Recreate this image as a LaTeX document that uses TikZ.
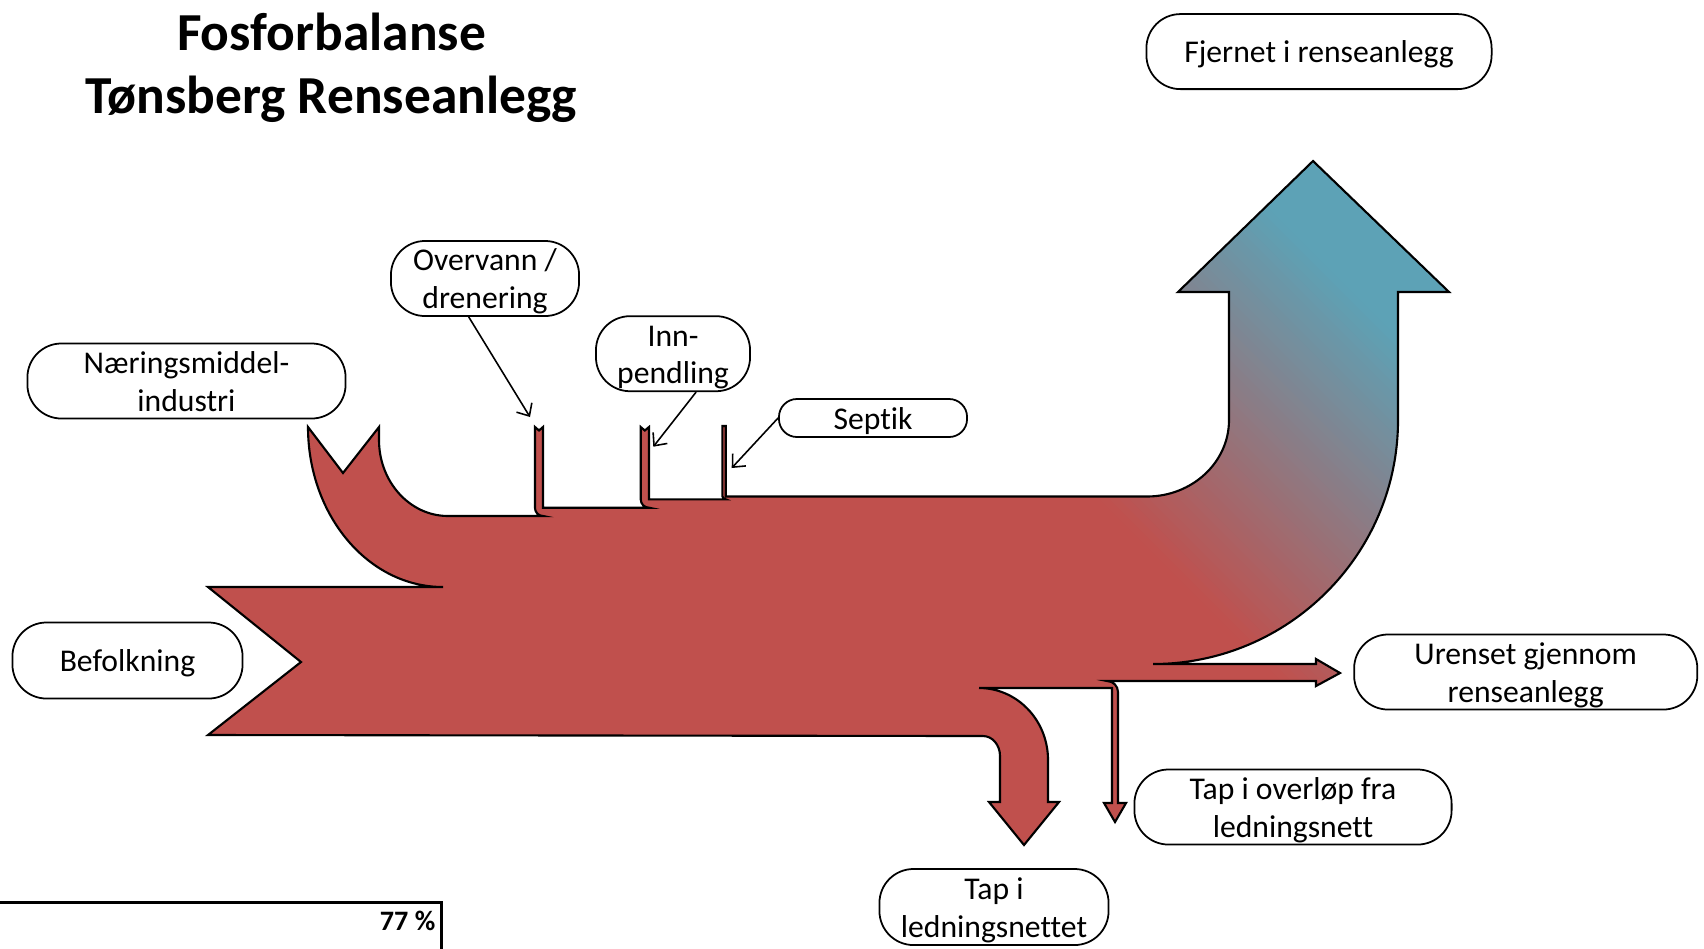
\documentclass[tikz,border=0pt]{standalone}
\usepackage{fontspec}
\setmainfont{Carlito}[Ligatures=NoCommon]
\usetikzlibrary{arrows.meta}
\definecolor{fosred}{HTML}{C0504D}
\definecolor{fosblue}{HTML}{5DA2B6}
% outline of the whole flow, in pixel units
\def\flowpath{(208,587) -- (443,587)
  .. controls (368,587) and (308,515) .. (308,427)
  -- (343,473) -- (379,427) -- (379,440)
  .. controls (379,482) and (410,516) .. (448,516)
  -- (543,516)
  .. controls (538.6,516) and (535,512.4) .. (535,508)
  -- (535,427) -- (539,430.5) -- (543,427) -- (543,507.7)
  -- (649,507.7)
  .. controls (644.4,507.7) and (640.7,503.9) .. (640.7,499.3)
  -- (640.7,427) -- (644.8,430.5) -- (649,427) -- (649,499.3)
  -- (725.7,499.3)
  .. controls (723.8,499.3) and (722.3,497.8) .. (722.3,496)
  -- (722.3,426) -- (725.7,426) -- (725.7,496.5)
  -- (1147,496.5)
  .. controls (1192,496.5) and (1229,462.5) .. (1229,420)
  -- (1229,292) -- (1178,292) -- (1313,161) -- (1449,292) -- (1398,292) -- (1398,420)
  .. controls (1398,554.7) and (1288,664) .. (1153,664)
  -- (1316,664) -- (1316,659) -- (1340,673) -- (1316,686) -- (1316,681)
  -- (1107,681)
  .. controls (1113,681) and (1118,686) .. (1118,692)
  -- (1118,803) -- (1126,803) -- (1115,822) -- (1104,803) -- (1112,803)
  -- (1112,688) -- (979,688)
  .. controls (1017,688) and (1048,720) .. (1048,760)
  -- (1048,802) -- (1059,802) -- (1024,845) -- (989,802) -- (1000,802)
  -- (1000,756)
  .. controls (1000,745) and (992.4,736) .. (983,736)
  -- (208,735) -- (301,662) -- cycle}
\begin{document}
\begin{tikzpicture}[x=0.01cm,y=-0.01cm,
	lbl/.style={draw,line width=0.5pt,rounded corners=0.34cm,minimum height=0.75cm,
		inner sep=0pt,align=center,font=\fontsize{9}{10.7}\selectfont,
		text height=6.75pt,text depth=0.36pt},
	lbltwo/.style={lbl,text height=17.45pt},
	pil/.style={line width=0.45pt,-{Straight Barb[length=1mm,width=1.8mm]}}]
	\path[use as bounding box,fill=white] (0,0) rectangle (1704,948);
	% flow
	\begin{scope}
	\clip \flowpath;
	\fill[fosred] (150,100) rectangle (1550,900);
	\foreach \i in {0,...,45} {
		\pgfmathsetmacro\ua{600+10*\i}
		\pgfmathsetmacro\pct{(\i+0.5)/46*100}
		\fill[fosblue!\pct!fosred] ({\ua+140},140) -- ({\ua+150.6},140) -- ({\ua+730.6},720) -- ({\ua+720},720) -- cycle;
	}
	\fill[fosblue] (1200,140) -- (1800,140) -- (1800,720) -- (1780,720) -- cycle;
	\end{scope}
	\draw[line width=0.6pt,line join=miter] \flowpath;
	% titles and labels
	\node[align=center,font=\fontsize{15.2}{18}\selectfont\bfseries] (title) at (331.5,68) {Fosforbalanse\\Tønsberg Renseanlegg};
	\node[lbl,minimum width=3.45cm] (fjernet) at (1319,51.6) {Fjernet i renseanlegg};
	\node[lbltwo,minimum width=1.88cm] (overvann) at (485,278.5) {Overvann /\\drenering};
	\node[lbltwo,minimum width=1.54cm] (innpend) at (673,353.7) {Inn-\\pendling};
	\node[lbl,minimum width=1.88cm,minimum height=0.38cm,rounded corners=0.18cm] (septik) at (873,418) {Septik};
	\node[lbltwo,minimum width=3.18cm] (naering) at (186.5,381) {Næringsmiddel-\\industri};
	\node[lbl,minimum width=2.30cm,minimum height=0.76cm] (befolk) at (127.5,660.5) {Befolkning};
	\node[lbltwo,minimum width=3.43cm] (urenset) at (1525.7,672) {Urenset gjennom\\renseanlegg};
	\node[lbltwo,minimum width=3.17cm] (overlop) at (1293,807) {Tap i overløp fra\\ledningsnett};
	\node[lbltwo,minimum width=2.29cm,minimum height=0.76cm] (tapnett) at (994,907) {Tap i\\ledningsnettet};
	% pointers
	\coordinate (ovtip) at (530,417);
	\coordinate (inntip) at (653.3,446.7);
	\coordinate (septip) at (731.7,468);
	\draw[pil] (overvann.247) -- (ovtip);
	\draw[pil] (innpend.301) -- (inntip);
	\draw[pil] (septik.west) -- (septip);
	% table cell
	\draw[line width=0.7pt] (-10,902.3) -| (441.7,960);
	\node[anchor=base east,inner sep=0pt,font=\fontsize{8}{9.6}\selectfont\bfseries] (pct) at (436,930.7) {77 \%};
\end{tikzpicture}
\end{document}
